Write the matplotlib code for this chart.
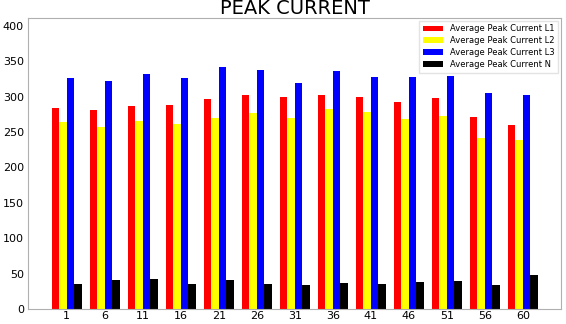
import numpy as np
import matplotlib.pyplot as plt

days = ["1", "6", "11", "16", "21", "26", "31", "36", "41", "46", "51", "56", "60"]
l1 = [284, 281, 287, 288, 297, 303, 300, 302, 299, 292, 298, 272, 260]
l2 = [264, 257, 265, 261, 270, 277, 270, 282, 278, 269, 273, 242, 239]
l3 = [327, 322, 332, 327, 342, 338, 319, 336, 328, 328, 329, 305, 302]
n = [36, 41, 43, 35, 41, 35, 34.5, 37, 35, 38.5, 39.5, 34.5, 48]

series = [("Average Peak Current L1", l1, "red"),
          ("Average Peak Current L2", l2, "yellow"),
          ("Average Peak Current L3", l3, "blue"),
          ("Average Peak Current N", n, "black")]

fig = plt.figure(figsize=(5.66, 3.24), dpi=100)
ax = fig.add_axes([0.0495, 0.0463, 0.9415, 0.8977])

x = np.arange(len(days))
w = 0.2
for i, (lbl, vals, col) in enumerate(series):
    ax.bar(x + (i - 1.5) * w, vals, w, color=col, label=lbl)

ax.set_xticks(x)
ax.set_xticklabels(days)
ax.set_yticks(range(0, 401, 50))
ax.set_xlim(-1.02, 13.0)
ax.set_ylim(0, 411)
ax.tick_params(length=0, labelsize=8)
ax.tick_params(axis="x", pad=1.5)
ax.tick_params(axis="y", pad=3)
for s in ax.spines.values():
    s.set_color("#b0b0b0")
ax.set_title("PEAK CURRENT", fontsize=14, pad=1.5)
ax.legend(loc="upper right", fontsize=6, frameon=True, fancybox=False,
          edgecolor="#dddddd", handlelength=2.5, borderpad=0.45,
          labelspacing=0.35, borderaxespad=0.3)

fig.savefig("out.png")
